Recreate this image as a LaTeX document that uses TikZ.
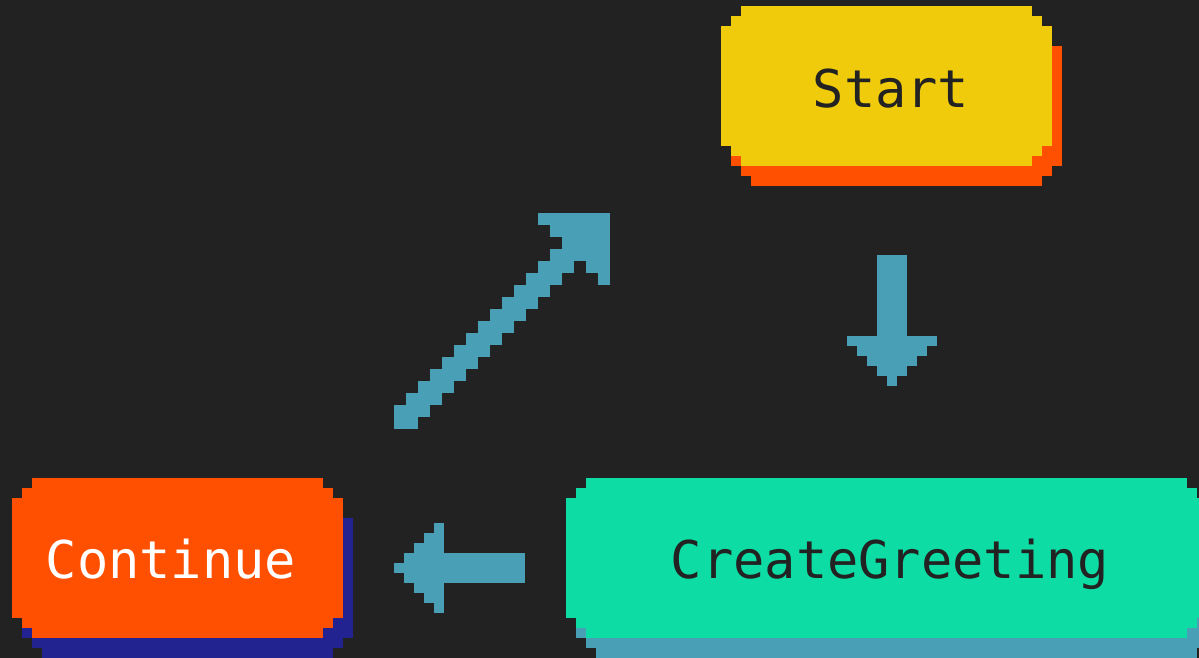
\documentclass[tikz,border=0pt]{standalone}
\usepackage{fontspec}
\setmonofont{DejaVu Sans Mono}
\definecolor{bgdark}{HTML}{222222}
\definecolor{startyellow}{HTML}{EFCB0B}
\definecolor{hotorange}{HTML}{FF4F00}
\definecolor{deepnavy}{HTML}{222290}
\definecolor{mintgreen}{HTML}{0DDDA4}
\definecolor{arrowblue}{HTML}{499FB6}
% pixel box with stepped corners: x1,y1,x2,y2,colour
\newcommand\pixbox[5]{%
  \fill[#5] (#1,{#2+20}) rectangle (#3,{#4-20});
  \fill[#5] ({#1+10},{#2+10}) rectangle ({#3-10},{#4-10});
  \fill[#5] ({#1+20},#2) rectangle ({#3-20},#4);
}

\begin{document}
\begin{tikzpicture}[x=0.025cm,y=-0.025cm,
  lbl/.style={font=\ttfamily\fontsize{37}{44}\selectfont,inner sep=0pt,anchor=base}]
% 1 unit = 1 pixel, y grows downwards
\useasboundingbox (0,0) rectangle (1199,658);
\clip (0,0) rectangle (1199,658);
\fill[bgdark] (0,0) rectangle (1199,658);
% boxes (shadow first, shifted by 10/20)
\pixbox{731}{26}{1062}{186}{hotorange}
\pixbox{721}{6}{1052}{166}{startyellow}
\pixbox{22}{498}{353}{658}{deepnavy}
\pixbox{12}{478}{343}{638}{hotorange}
\pixbox{576}{498}{1217}{658}{arrowblue}
\pixbox{566}{478}{1207}{638}{mintgreen}
% labels
\node[lbl,text=bgdark] (start) at (891,107) {Start};
\node[lbl,text=white] (cont) at (171,578) {Continue};
\node[lbl,text=bgdark] (greet) at (890,578) {CreateGreeting};
% down arrow: Start -> CreateGreeting
\fill[arrowblue] (877,255) rectangle (907,336);
\foreach \i in {0,...,4}
  \fill[arrowblue] ({847+10*\i},{336+10*\i}) rectangle ({937-10*\i},{346+10*\i});
% left arrow: CreateGreeting -> Continue
\fill[arrowblue] (444,553) rectangle (525,583);
\foreach \i in {0,...,4}
  \fill[arrowblue] ({434-10*\i},{523+10*\i}) rectangle ({444-10*\i},{613-10*\i});
% diagonal arrow: Continue -> Start (12px steps)
\foreach \n in {0,...,13}
  \fill[arrowblue] ({394+12*\n},{429-12*\n}) rectangle ++(24,-24);
\foreach \ja/\ma/\jb/\mb in {12/17/18/18,13/16/18/17,14/15/18/16,
  13/14/18/15,16/13/18/14,17/12/18/13}
  \fill[arrowblue] ({394+12*\ja},{429-12*\ma}) rectangle ({394+12*\jb},{429-12*\mb});
\end{tikzpicture}
\end{document}
